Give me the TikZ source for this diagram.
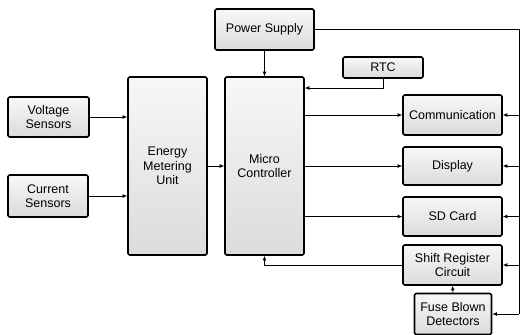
\documentclass[tikz,border=0pt]{standalone}
\usepackage{fontspec}
\setmainfont{Liberation Sans}
\usetikzlibrary{arrows.meta}
\tikzset{
  blk/.style={draw, line width=1.6pt, rounded corners=1.5pt, top color=gray!6, bottom color=gray!28,
    align=center, inner sep=1pt, font=\fontsize{12.5}{14.5}\selectfont},
  arr/.style={line width=0.8pt, -{Latex[length=4.5pt,width=4pt]}},
  wire/.style={line width=0.8pt}
}
\begin{document}
\begin{tikzpicture}[x=1pt, y=-1pt, line join=round]
\useasboundingbox (0,0) rectangle (520,335);
% blocks
\node[blk, minimum width=99pt, minimum height=41pt] (ps)  at (264.5, 29.5) {Power Supply};
\node[blk, minimum width=79pt, minimum height=178pt] (emu) at (167.5, 166) {Energy\\Metering\\Unit};
\node[blk, minimum width=79pt, minimum height=178pt] (mc)  at (264.5, 166) {Micro\\Controller};
\node[blk, minimum width=81pt, minimum height=40pt] (vs)  at (48.5, 117) {Voltage\\Sensors};
\node[blk, minimum width=80pt, minimum height=42pt] (cs)  at (48, 196) {Current\\Sensors};
\node[blk, minimum width=80pt, minimum height=21pt] (rtc) at (383, 67.5) {RTC};
\node[blk, minimum width=99pt, minimum height=40pt] (com) at (452.5, 115) {Communication};
\node[blk, minimum width=99pt, minimum height=38pt] (dis) at (452.5, 166) {Display};
\node[blk, minimum width=99pt, minimum height=39pt] (sd)  at (452.5, 216.5) {SD Card};
\node[blk, minimum width=99pt, minimum height=40pt] (sr)  at (452.5, 265) {Shift Register\\Circuit};
\node[blk, minimum width=77pt, minimum height=41pt] (fbd) at (453, 314) {Fuse Blown\\Detectors};
% right-hand supply bus
\coordinate (busT) at (519, 29.5);
\coordinate (busB) at (519, 314);
\coordinate (rtcin) at (304, 88);
\draw[wire] (ps.east) -- (busT) -- (busB);
% connectors
\draw[arr] (ps.south) -- (mc.north);
\draw[arr] (rtc.south) |- (rtcin -| mc.east);
\draw[arr] (vs.east) -- (vs.east -| emu.west);
\draw[arr] (cs.east) -- (cs.east -| emu.west);
\draw[arr] (emu.east) -- (mc.west);
\draw[arr] (mc.east |- com.west) -- (com.west);
\draw[arr] (mc.east |- dis.west) -- (dis.west);
\draw[arr] (mc.east |- sd.west) -- (sd.west);
\draw[arr] (sr.west) -| (mc.south);
\draw[arr] (fbd.north) -- (sr.south);
\draw[arr] (com.east -| busT) -- (com.east);
\draw[arr] (dis.east -| busT) -- (dis.east);
\draw[arr] (sd.east -| busT) -- (sd.east);
\draw[arr] (sr.east -| busT) -- (sr.east);
\draw[arr] (fbd.east -| busT) -- (fbd.east);
\end{tikzpicture}
\end{document}
